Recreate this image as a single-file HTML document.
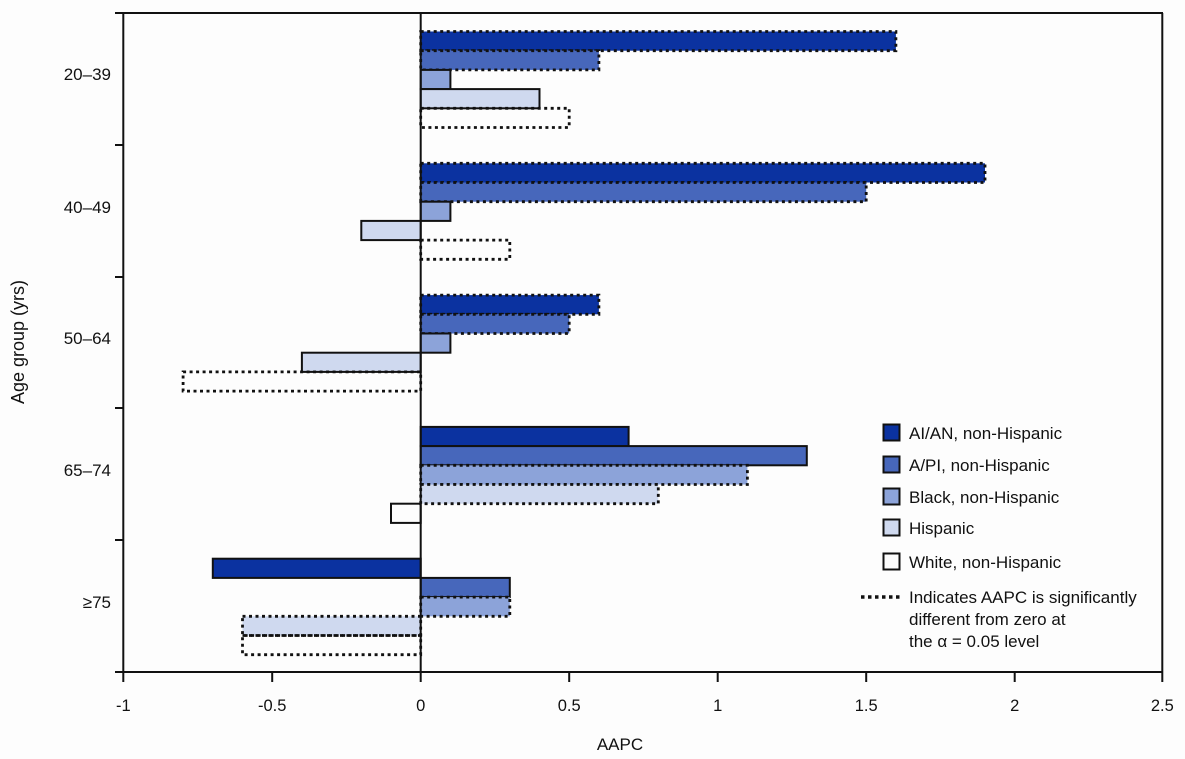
<!DOCTYPE html>
<html><head><meta charset="utf-8"><style>
html,body{margin:0;padding:0;background:#fdfdfd;}
svg{display:block;}
text{font-family:"Liberation Sans",Arial,sans-serif;fill:#111;}
</style></head><body>
<svg width="1185" height="759" viewBox="0 0 1185 759" xmlns="http://www.w3.org/2000/svg">
<rect width="1185" height="759" fill="#fdfdfd"/>
<!-- bars -->
<g stroke="#111" stroke-width="2">
<!-- group 1: 20-39 -->
<rect x="420.7" y="31.5" width="475.2" height="19.2" fill="#0b32a0" stroke-dasharray="3 3.5" stroke-width="2.8"/>
<rect x="420.7" y="50.7" width="178.2" height="19.2" fill="#4767bb" stroke-dasharray="3 3.5" stroke-width="2.8"/>
<rect x="420.7" y="69.9" width="29.7" height="19.2" fill="#8ca3d9"/>
<rect x="420.7" y="89.1" width="118.8" height="19.2" fill="#cfd9ef"/>
<rect x="420.7" y="108.3" width="148.5" height="19.2" fill="none" stroke-dasharray="3 3.5" stroke-width="2.8"/>
<!-- group 2: 40-49 -->
<rect x="420.7" y="163.3" width="564.3" height="19.2" fill="#0b32a0" stroke-dasharray="3 3.5" stroke-width="2.8"/>
<rect x="420.7" y="182.5" width="445.5" height="19.2" fill="#4767bb" stroke-dasharray="3 3.5" stroke-width="2.8"/>
<rect x="420.7" y="201.7" width="29.7" height="19.2" fill="#8ca3d9"/>
<rect x="361.3" y="220.9" width="59.4" height="19.2" fill="#cfd9ef"/>
<rect x="420.7" y="240.1" width="89.1" height="19.2" fill="none" stroke-dasharray="3 3.5" stroke-width="2.8"/>
<!-- group 3: 50-64 -->
<rect x="420.7" y="295.1" width="178.2" height="19.2" fill="#0b32a0" stroke-dasharray="3 3.5" stroke-width="2.8"/>
<rect x="420.7" y="314.3" width="148.5" height="19.2" fill="#4767bb" stroke-dasharray="3 3.5" stroke-width="2.8"/>
<rect x="420.7" y="333.5" width="29.7" height="19.2" fill="#8ca3d9"/>
<rect x="301.9" y="352.7" width="118.8" height="19.2" fill="#cfd9ef"/>
<rect x="183.1" y="371.9" width="237.6" height="19.2" fill="none" stroke-dasharray="3 3.5" stroke-width="2.8"/>
<!-- group 4: 65-74 -->
<rect x="420.7" y="426.9" width="207.9" height="19.2" fill="#0b32a0"/>
<rect x="420.7" y="446.1" width="386.1" height="19.2" fill="#4767bb"/>
<rect x="420.7" y="465.3" width="326.7" height="19.2" fill="#8ca3d9" stroke-dasharray="3 3.5" stroke-width="2.8"/>
<rect x="420.7" y="484.5" width="237.6" height="19.2" fill="#cfd9ef" stroke-dasharray="3 3.5" stroke-width="2.8"/>
<rect x="391" y="503.7" width="29.7" height="19.2" fill="none"/>
<!-- group 5: >=75 -->
<rect x="212.8" y="558.7" width="207.9" height="19.2" fill="#0b32a0"/>
<rect x="420.7" y="577.9" width="89.1" height="19.2" fill="#4767bb"/>
<rect x="420.7" y="597.1" width="89.1" height="19.2" fill="#8ca3d9" stroke-dasharray="3 3.5" stroke-width="2.8"/>
<rect x="242.5" y="616.3" width="178.2" height="19.2" fill="#cfd9ef" stroke-dasharray="3 3.5" stroke-width="2.8"/>
<rect x="242.5" y="635.5" width="178.2" height="19.2" fill="none" stroke-dasharray="3 3.5" stroke-width="2.8"/>
</g>
<!-- axes -->
<g stroke="#111" stroke-width="2" fill="none">
<line x1="115" y1="13" x2="1163" y2="13"/>
<line x1="115" y1="672" x2="1163" y2="672"/>
<line x1="123.3" y1="13" x2="123.3" y2="682"/>
<line x1="1162.3" y1="13" x2="1162.3" y2="682"/>
<line x1="420.7" y1="13" x2="420.7" y2="682"/>
<line x1="115" y1="145" x2="123" y2="145"/>
<line x1="115" y1="277" x2="123" y2="277"/>
<line x1="115" y1="408" x2="123" y2="408"/>
<line x1="115" y1="540" x2="123" y2="540"/>
<line x1="272.2" y1="672" x2="272.2" y2="682"/>
<line x1="569.2" y1="672" x2="569.2" y2="682"/>
<line x1="717.7" y1="672" x2="717.7" y2="682"/>
<line x1="866.2" y1="672" x2="866.2" y2="682"/>
<line x1="1014.7" y1="672" x2="1014.7" y2="682"/>
</g>
<!-- x tick labels -->
<g font-size="16.5" text-anchor="middle">
<text x="123.3" y="711">-1</text>
<text x="272.2" y="711">-0.5</text>
<text x="420.7" y="711">0</text>
<text x="569.2" y="711">0.5</text>
<text x="717.7" y="711">1</text>
<text x="866.2" y="711">1.5</text>
<text x="1014.7" y="711">2</text>
<text x="1162.3" y="711">2.5</text>
</g>
<text x="620" y="750" font-size="17" text-anchor="middle">AAPC</text>
<!-- y labels -->
<g font-size="17" text-anchor="end">
<text x="111" y="80">20–39</text>
<text x="111" y="213">40–49</text>
<text x="111" y="344">50–64</text>
<text x="111" y="476">65–74</text>
<text x="111" y="608">≥75</text>
</g>
<text transform="translate(24,342) rotate(-90)" font-size="18" text-anchor="middle">Age group (yrs)</text>
<!-- legend -->
<g stroke="#111" stroke-width="2">
<rect x="883.5" y="424.5" width="16" height="16" fill="#0b32a0"/>
<rect x="883.5" y="456.5" width="16" height="16" fill="#4767bb"/>
<rect x="883.5" y="488.5" width="16" height="16" fill="#8ca3d9"/>
<rect x="883.5" y="519.5" width="16" height="16" fill="#cfd9ef"/>
<rect x="883.5" y="553.5" width="16" height="16" fill="#fdfdfd"/>
<line x1="861" y1="597" x2="901" y2="597" stroke-width="3.5" stroke-dasharray="3.5 3.5"/>
</g>
<g font-size="17">
<text x="909" y="439">AI/AN, non-Hispanic</text>
<text x="909" y="471">A/PI, non-Hispanic</text>
<text x="909" y="503">Black, non-Hispanic</text>
<text x="909" y="534">Hispanic</text>
<text x="909" y="568">White, non-Hispanic</text>
<text x="909" y="603">Indicates AAPC is significantly</text>
<text x="909" y="625">different from zero at</text>
<text x="909" y="647">the α = 0.05 level</text>
</g>
</svg>
</body></html>
